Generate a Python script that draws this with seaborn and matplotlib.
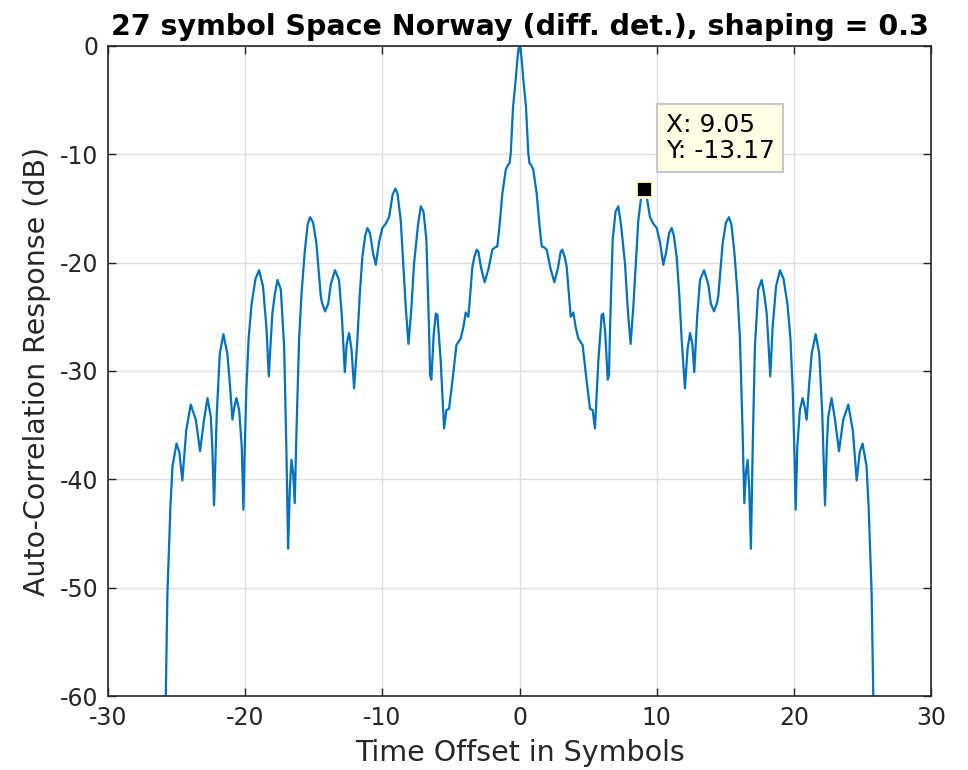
import matplotlib
matplotlib.use("Agg")
import matplotlib.pyplot as plt
import seaborn as sns
import numpy as np

# right half of the (symmetric) auto-correlation
offset_pos = [0.0, 0.08, 0.16, 0.3, 0.47, 0.64, 0.72, 0.85, 1.0, 1.25, 1.45, 1.62, 1.8,
              1.98, 2.25, 2.54, 2.8, 3.0, 3.12, 3.3, 3.44, 3.6, 3.73, 3.92, 4.1, 4.29,
              4.6, 4.9, 5.14, 5.33, 5.5, 5.75, 5.99, 6.1, 6.25, 6.43, 6.52, 6.6, 6.79,
              7.0, 7.2, 7.4, 7.69, 7.9, 8.1, 8.3, 8.66, 8.9, 9.05, 9.25, 9.39, 9.51,
              9.75, 10.0, 10.24, 10.48, 10.68, 10.9, 11.09, 11.25, 11.46, 11.65, 11.82,
              12.06, 12.25, 12.43, 12.6, 12.74, 12.95, 13.16, 13.45, 13.76, 13.95,
              14.18, 14.4, 14.49, 14.81, 15.05, 15.27, 15.45, 15.66, 15.9, 16.07,
              16.25, 16.39, 16.5, 16.63, 16.75, 16.87, 17.0, 17.16, 17.4, 17.65,
              17.85, 18.02, 18.15, 18.28, 18.45, 18.7, 18.99, 19.25, 19.54, 19.75,
              19.91, 20.05, 20.13, 20.25, 20.44, 20.64, 20.8, 20.93, 21.1, 21.3,
              21.59, 21.85, 22.07, 22.27, 22.4, 22.51, 22.75, 23.0, 23.29, 23.6,
              23.97, 24.3, 24.58, 24.8, 25.01, 25.3, 25.45, 25.55, 25.67, 25.79, 25.85]
acf_db_pos = [0.0, -0.3, -1.3, -3.4, -5.6, -9.9, -10.8, -11.0, -11.4, -13.6, -16.5, -18.5, -18.6,
              -18.8, -20.5, -21.8, -20.5, -19.0, -18.8, -19.5, -20.4, -23.0, -25.0, -24.6, -26.0, -27.0,
              -27.6, -31.0, -33.5, -33.6, -35.3, -29.0, -24.8, -24.7, -26.5, -30.8, -30.4, -26.0, -17.9,
              -15.3, -14.8, -16.5, -20.1, -24.5, -27.5, -24.0, -16.1, -13.6, -13.17, -13.7, -14.8, -15.8,
              -16.4, -16.8, -18.1, -20.2, -19.1, -17.3, -16.8, -17.5, -19.5, -23.0, -27.1,
              -31.6, -28.0, -26.5, -27.5, -30.1, -25.0, -21.6, -20.7, -22.0, -23.8,
              -24.5, -23.7, -23.1, -18.2, -16.3, -15.8, -16.5, -19.0, -23.0, -27.1,
              -35.0, -42.2, -39.5, -38.2, -41.0, -46.4, -37.0, -27.8, -22.5, -21.6,
              -23.0, -24.7, -27.5, -30.5, -26.0, -22.2, -20.7, -21.5, -23.9, -27.0,
              -31.5, -38.0, -42.8, -37.0, -33.6, -32.5, -33.4, -34.5, -31.5, -28.4,
              -26.6, -28.4, -33.9, -42.4, -37.0, -34.2, -32.5, -34.5, -37.4, -34.5,
              -33.1, -35.5, -40.1, -37.5, -36.7, -38.8, -42.5, -46.2, -50.5, -60.0, -70.0]

offset = [-v for v in offset_pos[:0:-1]] + offset_pos
acf_db = acf_db_pos[:0:-1] + acf_db_pos

tip_x, tip_y = 9.05, -13.17

sns.set_style("whitegrid")
plt.rcParams['font.family'] = ['DejaVu Sans']
plt.rcParams['axes.unicode_minus'] = False

fig = plt.figure(figsize=(9.68, 7.70), dpi=100)
ax = fig.add_axes([0.1116, 0.0961, 0.8502, 0.8442])

sns.lineplot(x=offset, y=acf_db, ax=ax, color='#0072BD', linewidth=1.6)

ax.plot([tip_x], [tip_y], marker='s', markersize=11, color='black',
        markeredgecolor='#FFFFD0', markeredgewidth=2, zorder=5)
ax.text(10.65, -8.5, f"X: {tip_x}\nY: {tip_y}", fontsize=18, va='center', ha='left',
        color='black', linespacing=1.15,
        bbox=dict(boxstyle='square,pad=0.35', facecolor='#FFFFE6', edgecolor='#C8C8C8', linewidth=1.5),
        zorder=6)

ax.set_xlim(-30, 30)
ax.set_ylim(-60, 0)
ax.set_xticks(range(-30, 31, 10))
ax.set_yticks(range(-60, 1, 10))
ax.grid(True, color='#DFDFDF', linewidth=1)
for s in ax.spines.values():
    s.set_color('#262626')
    s.set_linewidth(1.2)
ax.tick_params(direction='in', length=6, width=1, colors='#262626', labelsize=17,
               top=True, right=True, bottom=True, left=True, pad=7)

ax.set_xlabel('Time Offset in Symbols', fontsize=20.5, color='#262626', labelpad=7)
ax.set_ylabel('Auto-Correlation Response (dB)', fontsize=20.5, color='#262626', labelpad=6)
ax.set_title('27 symbol Space Norway (diff. det.), shaping = 0.3', fontsize=20.5,
             fontweight='bold', color='black', pad=8)

fig.savefig('out.png', dpi=100, facecolor='white')
